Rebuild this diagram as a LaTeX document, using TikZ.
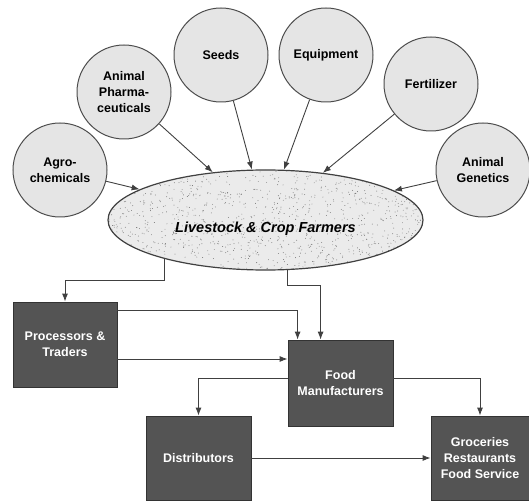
\documentclass[tikz,border=0pt]{standalone}
\usepackage{fontspec}
\setmainfont{Liberation Sans}
\usetikzlibrary{arrows.meta,shapes.geometric}
\begin{document}
\pgfmathsetseed{11}
\begin{tikzpicture}[x=1pt,y=-1pt,
        supply/.style={circle,draw=black!70,fill=black!10,line width=1pt,minimum size=94pt,inner sep=1pt,align=center,font=\fontsize{12.5}{16}\selectfont\bfseries},
        farm/.style={ellipse,draw=black!75,fill=black!8,line width=1.2pt,minimum width=315pt,minimum height=100pt,inner sep=0pt,font=\fontsize{14.5}{17}\selectfont\bfseries\itshape},
        stage/.style={rectangle,draw=black!80,fill=black!67,text=white,line width=0.8pt,align=center,font=\fontsize{12.5}{16}\selectfont\bfseries},
        arr/.style={draw=black!75,line width=0.9pt,-{Latex[length=8pt,width=6pt]}}]
    \useasboundingbox (0,0) rectangle (529,502);
    \node[supply] (agro) at (60,170) {Agro-\\chemicals};
    \node[supply] (pharma) at (124,92) {Animal\\Pharma-\\ceuticals};
    \node[supply] (seeds) at (221,55) {Seeds};
    \node[supply] (equip) at (326,55) {Equipment};
    \node[supply] (fert) at (431,84) {Fertilizer};
    \node[supply] (genetics) at (483,170) {Animal\\Genetics};
    \node[farm,path picture={
            \foreach \i in {1,...,1200}
                \fill[black!55] (path picture bounding box.center) ++({158*rand},{51*rand}) circle (0.45pt);
        }] (farmers) at (265.5,220) {\raisebox{-13pt}[0pt][0pt]{Livestock \& Crop Farmers}};
    \foreach \s in {agro,pharma,seeds,equip,fert,genetics}
        \draw[arr] (\s) -- (farmers);
    \node[stage,minimum width=104pt,minimum height=85pt] (proc) at (65,344.5) {Processors \&\\Traders};
    \node[stage,minimum width=105pt,minimum height=86pt] (food) at (340.5,383) {Food\\Manufacturers};
    \node[stage,minimum width=105pt,minimum height=84pt] (dist) at (198.5,458) {Distributors};
    \node[stage,minimum width=98pt,minimum height=84pt] (groc) at (480,458) {Groceries\\Restaurants\\Food Service};
    \draw[arr] (farmers.201.3) -- ++(0,22) -| (proc.north);
    \draw[arr] (farmers.294.4) -- ++(0,15) -| ([xshift=33pt]food.north west);
    \draw[arr] ([yshift=-9pt]proc.north east) -| ([xshift=10pt]food.north west);
    \draw[arr] ([yshift=-14.5pt]proc.east) coordinate (p2) -- (p2 -| food.west);
    \draw[arr] ([yshift=5pt]food.west) -| (dist.north);
    \draw[arr] ([yshift=5pt]food.east) -| (groc.north);
    \draw[arr] (dist.east) -- (groc.west);
\end{tikzpicture}
\end{document}
